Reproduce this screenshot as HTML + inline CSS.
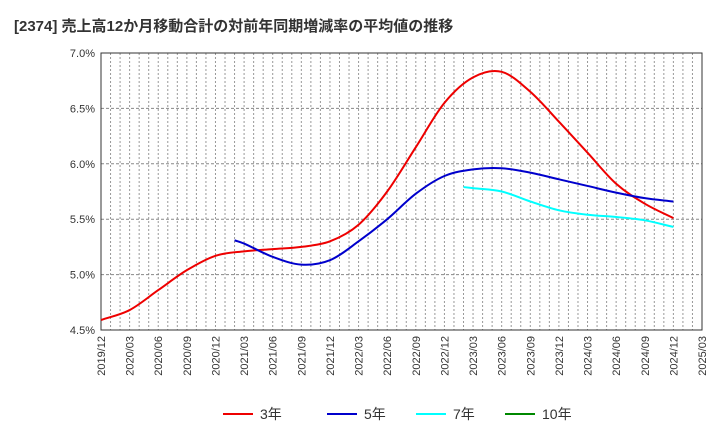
<!DOCTYPE html>
<html><head><meta charset="utf-8"><style>
body{margin:0;background:#fff;font-family:"Liberation Sans","Noto Sans CJK JP",sans-serif}
</style></head><body>
<svg id="c" width="720" height="440" xmlns="http://www.w3.org/2000/svg" font-family="Liberation Sans, Noto Sans CJK JP, sans-serif">
<text x="14" y="31" font-size="15" font-weight="bold" fill="#333">[2374]  売上高12か月移動合計の対前年同期増減率の平均値の推移</text>
<g id="grid"></g><g id="axes"></g><g id="lines"></g>
<g font-size="14" fill="#333">
<g><line x1="223" y1="414" x2="253" y2="414" stroke="#e00" stroke-width="2"/><text x="260" y="419">3年</text></g>
<g><line x1="327" y1="414" x2="357" y2="414" stroke="#00c" stroke-width="2"/><text x="364" y="419">5年</text></g>
<g><line x1="416" y1="414" x2="446" y2="414" stroke="#0ff" stroke-width="2"/><text x="453" y="419">7年</text></g>
<g><line x1="505" y1="414" x2="535" y2="414" stroke="#080" stroke-width="2"/><text x="542" y="419">10年</text></g>
</g>
</svg>
<script>
const xTicks=["2019/12","2020/03","2020/06","2020/09","2020/12","2021/03","2021/06","2021/09","2021/12","2022/03","2022/06","2022/09","2022/12","2023/03","2023/06","2023/09","2023/12","2024/03","2024/06","2024/09","2024/12","2025/03"];
const yTicks=[4.5,5.0,5.5,6.0,6.5,7.0];
const s3=[4.59,4.68,4.86,5.04,5.17,5.21,5.23,5.25,5.30,5.45,5.75,6.15,6.55,6.78,6.83,6.65,6.38,6.10,5.82,5.64,5.51];
const s3Months=[0,3,6,9,12,15,18,21,24,27,30,33,36,39,42,45,48,51,54,57,60];
const s5=[5.31,5.28,5.16,5.09,5.13,5.30,5.50,5.73,5.89,5.95,5.96,5.92,5.86,5.80,5.74,5.69,5.66];
const s5Months=[14,15,18,21,24,27,30,33,36,39,42,45,48,51,54,57,60];
const s7=[5.79,5.78,5.75,5.66,5.58,5.54,5.52,5.49,5.43];
const s7Months=[38,39,42,45,48,51,54,57,60];
const L=101,R=702,T=53,B=330,NM=63;
const ns="http://www.w3.org/2000/svg";
const X=m=>L+m*(R-L)/NM;
const Y=v=>T+(7.0-v)/2.5*(B-T);
function mk(t,a,p){const e=document.createElementNS(ns,t);for(const k in a)e.setAttribute(k,a[k]);p.appendChild(e);return e;}
const g=document.getElementById('grid'),ax=document.getElementById('axes'),ln=document.getElementById('lines');
for(let m=1;m<NM;m++){const e=mk('line',{x1:X(m),x2:X(m),y1:T,y2:B,stroke:'#999','stroke-dasharray':'2,2','stroke-width':1},g);

}
yTicks.forEach(v=>{if(v>4.5&&v<7){const e=mk('line',{x1:L,x2:R,y1:Y(v),y2:Y(v),stroke:'#888','stroke-dasharray':'3,2','stroke-width':1},g);

}
const t=mk('text',{x:L-6,y:Y(v)+4,'text-anchor':'end','font-size':11,fill:'#333'},ax);t.textContent=v.toFixed(1)+'%';

});
const fr=mk('rect',{x:L,y:T,width:R-L,height:B-T,fill:'none',stroke:'#333','stroke-width':1},ax);


xTicks.forEach((s,i)=>{const x=X(i*3);const t=mk('text',{x:x+4,y:B+6,'text-anchor':'end','font-size':11,fill:'#333',transform:`rotate(-90 ${x+4} ${B+6})`},ax);t.textContent=s;

});
function path(vals,months){const p=vals.map((v,i)=>[X(months[i]),Y(v)]);let d=`M${p[0][0]},${p[0][1]}`;
for(let i=0;i<p.length-1;i++){const p0=p[i-1]||p[i],p1=p[i],p2=p[i+1],p3=p[i+2]||p2;
const k=(p2[0]-p1[0]);const k0=(p2[0]-p0[0])||1,k3=(p3[0]-p1[0])||1;
d+=` C${p1[0]+k/3},${p1[1]+(p2[1]-p0[1])/k0*k/3} ${p2[0]-k/3},${p2[1]-(p3[1]-p1[1])/k3*k/3} ${p2[0]},${p2[1]}`;}return d;}
[[s3,s3Months,'#e00','line-3y'],[s5,s5Months,'#00c','line-5y'],[s7,s7Months,'#0ff','line-7y']].forEach(([v,m,c,n])=>{
const e=mk('path',{d:path(v,m),fill:'none',stroke:c,'stroke-width':2},ln);

});
</script>
</body></html>
